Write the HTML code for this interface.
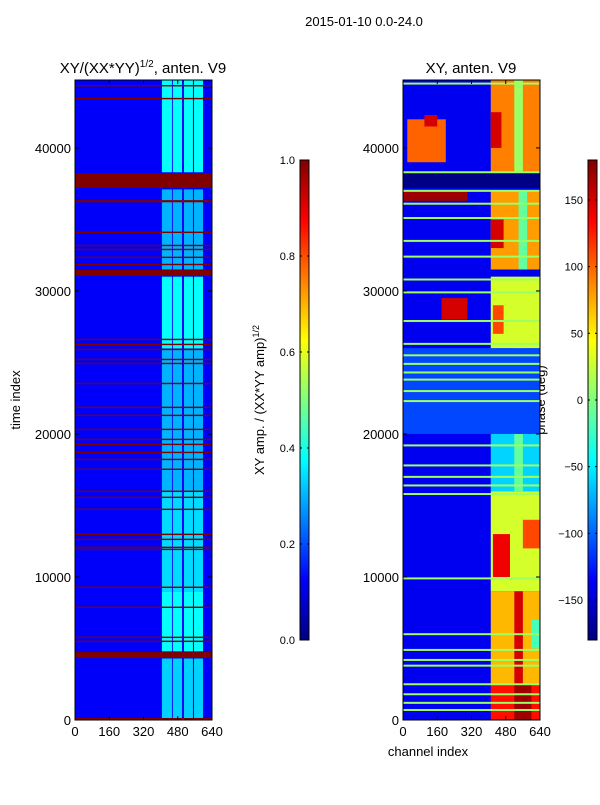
<!DOCTYPE html>
<html><head><meta charset="utf-8"><style>
body{margin:0;background:#fff;width:600px;height:800px;overflow:hidden;font-family:"Liberation Sans",sans-serif;}
svg text{font-family:"Liberation Sans",sans-serif;}
</style></head><body>
<svg id="fig" width="600" height="800" xmlns="http://www.w3.org/2000/svg">
<text x="364" y="26" font-size="13" text-anchor="middle">2015-01-10 0.0-24.0</text>
<text x="143" y="73" font-size="15" text-anchor="middle">XY/(XX*YY)<tspan font-size="10" dy="-6">1/2</tspan><tspan dy="6">, anten. V9</tspan></text>
<text x="471" y="73" font-size="15" text-anchor="middle">XY, anten. V9</text>
<text transform="translate(20,400) rotate(-90)" font-size="13" text-anchor="middle">time index</text>
<text x="428" y="756" font-size="13" text-anchor="middle">channel index</text>
<text transform="translate(264,400) rotate(-90)" font-size="13" text-anchor="middle">XY amp. / (XX*YY amp)<tspan font-size="9" dy="-5">1/2</tspan></text>
<text transform="translate(545,400) rotate(-90)" font-size="13" text-anchor="middle">phase (deg)</text>
<g id="left"></g><g id="right"></g><g id="axes"></g>
</svg>
<script>
const NS="http://www.w3.org/2000/svg";
const TMAX=44750;
const yTicks=[0,10000,20000,30000,40000];
const xTicks=[0,160,320,480,640];
const ampTicks=[0.0,0.2,0.4,0.6,0.8,1.0];
const phaseTicks=[-150,-100,-50,0,50,100,150];
// left: saturated (amp=1) row bands [tStart,tEnd]
const leftRedBands=[[0,140],[4330,4750],[31050,31470],[37200,38230],[5450,5550],[5730,5830],[7830,7930],[9230,9330],[11880,11980],[12020,12120],[12580,12680],[12930,13030],[14680,14780],[15520,15620],[15940,16040],[17480,17580],[18170,18270],[18660,18760],[19220,19320],[19570,19670],[20270,20370],[21250,21350],[21810,21910],[23480,23580],[24880,24980],[25160,25260],[25860,25960],[26210,26310],[26560,26660],[31800,31900],[32300,32400],[32850,32950],[33130,33230],[34050,34150],[36200,36350],[43400,43500],[44300,44400]];
// left: bright channel bands [chStart,chEnd]
const leftBandCh=[[406,453],[457,500],[509,551],[556,598]];
// left: band amplitude per time segment [tStart,tEnd,amp]
const leftBandAmp=[[0,4300,0.33],[4800,9000,0.38],[9000,16000,0.34],[16000,26000,0.3],[26000,31000,0.38],[31500,37100,0.3],[38300,44750,0.38]];
const leftBg=0.12;
// right: phase blocks [tStart,tEnd,chStart,chEnd,deg]
const rightBlocks=[[0,44750,0,640,-140],[0,2500,410,640,130],[2500,9000,410,640,70],[9000,16000,410,640,30],[16000,26000,410,640,-60],[26000,31000,410,640,30],[31500,37000,410,640,80],[38300,44750,410,640,90],
[38300,44750,520,560,10],[40000,42500,410,460,150],[31500,37000,540,580,-10],[33000,35000,410,470,150],[27000,29000,420,470,110],[2500,9000,520,560,150],[10000,13000,420,500,140],[12000,14000,560,640,110],[0,2500,520,600,170],[5000,7000,600,640,-20],[16000,26000,520,560,-10],
[39000,42000,20,200,100],[41500,42300,100,160,150],[28000,29500,180,300,150],[37200,38230,0,640,-178],[36300,37000,0,300,170],[20000,26000,0,640,-110]];
// right: bright horizontal line rows [t,deg]
const rightLines=[[700,10],[1200,10],[1800,10],[2500,10],[3800,10],[4200,10],[4900,10],[6000,10],[9900,10],[15800,10],[16400,10],[17000,10],[17800,10],[19200,10],[22300,10],[23000,10],[23800,10],[24300,10],[24900,10],[25500,10],[26300,10],[27900,10],[29900,10],[30800,10],[32400,10],[33500,10],[35100,10],[36100,10],[37000,10],[38300,10],[44500,10]];
function jet(v){v=Math.max(0,Math.min(1,v));
 const r=Math.max(0,Math.min(1,1.5-Math.abs(4*v-3))),g=Math.max(0,Math.min(1,1.5-Math.abs(4*v-2))),b=Math.max(0,Math.min(1,1.5-Math.abs(4*v-1)));
 return `rgb(${Math.round(r*255)},${Math.round(g*255)},${Math.round(b*255)})`;}
const ph=d=>(d+180)/360;
function yS(t){return 720-t/TMAX*640;}
function xS(x0){return ch=>x0+ch/640*137;}
function rect(g,x,y,w,h,f){const r=document.createElementNS(NS,'rect');r.setAttribute('x',x);r.setAttribute('y',y);r.setAttribute('width',w);r.setAttribute('height',Math.max(h,1));r.setAttribute('fill',f);


g.appendChild(r);return r;}
function line(g,x1,y1,x2,y2,s){const l=document.createElementNS(NS,'line');l.setAttribute('x1',x1);l.setAttribute('y1',y1);l.setAttribute('x2',x2);l.setAttribute('y2',y2);l.setAttribute('stroke',s||'#000');


g.appendChild(l);}
function text(g,x,y,s,anchor,name){const t=document.createElementNS(NS,'text');t.setAttribute('x',x);t.setAttribute('y',y);t.setAttribute('font-size',name.includes('colorbar')?'11':'13');t.setAttribute('text-anchor',anchor);t.textContent=s;


g.appendChild(t);}
// left heatmap
const L=document.getElementById('left'),xl=xS(75);
rect(L,75,80,137,640,jet(leftBg));
leftBandAmp.forEach(([a,b,v])=>leftBandCh.forEach(([c0,c1])=>rect(L,xl(c0),yS(b),xl(c1)-xl(c0),yS(a)-yS(b),jet(v))));
leftRedBands.forEach(([a,b])=>rect(L,75,yS(b),137,yS(a)-yS(b),jet(1)));
// right heatmap
const R=document.getElementById('right'),xr=xS(403);
rightBlocks.forEach(([a,b,c0,c1,d])=>rect(R,xr(c0),yS(b),xr(c1)-xr(c0),yS(a)-yS(b),jet(ph(d))));
rightLines.forEach(([t,d])=>rect(R,403,yS(t)-1,137,2,jet(ph(d))));
// axes
const A=document.getElementById('axes');
[75,403].forEach((x0,i)=>{const xs=xS(x0);
 const f=document.createElementNS(NS,'rect');f.setAttribute('x',x0);f.setAttribute('y',80);f.setAttribute('width',137);f.setAttribute('height',640);f.setAttribute('fill','none');f.setAttribute('stroke','#000');
 
 
 A.appendChild(f);
 yTicks.forEach(t=>{line(A,x0,yS(t),x0+4,yS(t));line(A,x0+137,yS(t),x0+133,yS(t));text(A,x0-4,yS(t)+5,String(t),'end','y-tick-label');});
 xTicks.forEach(c=>{line(A,xs(c),720,xs(c),716);line(A,xs(c),80,xs(c),84);text(A,xs(c),736,String(c),'middle','x-tick-label');});
});
// colorbars
function cbar(x,id,ticks,toV,name){const d=document.createElementNS(NS,'defs');d.innerHTML=`<linearGradient id="${id}" x1="0" y1="1" x2="0" y2="0">${[0,.125,.25,.375,.5,.625,.75,.875,1].map(v=>`<stop offset="${v}" stop-color="${jet(v)}"/>`).join('')}</linearGradient>`;A.appendChild(d);
 const r=rect(A,x,160,9,480,`url(#${id})`);r.setAttribute('stroke','#000');
 
 ticks.forEach(t=>{const y=640-toV(t)*480;line(A,x,y,x+2,y);line(A,x+9,y,x+7,y);text(A,x-5,y+4,name.includes('amp')?t.toFixed(1):String(t).replace('-','\u2212'),'end','colorbar-tick-label');});}
cbar(300,'g1',ampTicks,v=>v,'colorbar-amp');
cbar(588,'g2',phaseTicks,ph,'colorbar-phase');
</script>
</body></html>
